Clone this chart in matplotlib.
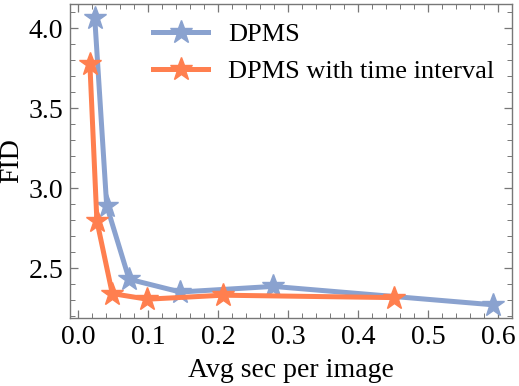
import matplotlib
matplotlib.use("Agg")
import matplotlib.pyplot as plt
from matplotlib.ticker import MultipleLocator

dpms_x = [0.024, 0.041, 0.073, 0.146, 0.279, 0.593]
dpms_y = [4.06, 2.89, 2.43, 2.35, 2.385, 2.27]
dpms_ti_x = [0.017, 0.027, 0.049, 0.099, 0.207, 0.451]
dpms_ti_y = [3.775, 2.795, 2.34, 2.305, 2.33, 2.315]

blue = "#8aa2cf"
orange = "#ff7f4f"

plt.rcParams['font.family'] = ['Liberation Serif', 'DejaVu Serif']

fig = plt.figure(figsize=(5.19, 3.86), dpi=100)
ax = fig.add_axes([70/519, 1-318/386, 442/519, 314/386])

ax.plot(dpms_x, dpms_y, color=blue, lw=3.6, marker='*', ms=17, mec=blue, mfc=blue,
        label='DPMS', zorder=2)
ax.plot(dpms_ti_x, dpms_ti_y, color=orange, lw=3.6, marker='*', ms=17, mec=orange, mfc=orange,
        label='DPMS with time interval', zorder=3)

ax.set_xlim(-0.0114, 0.62)
ax.set_ylim(2.1875, 4.15)
ax.xaxis.set_major_locator(MultipleLocator(0.1))
ax.xaxis.set_minor_locator(MultipleLocator(0.02))
ax.yaxis.set_major_locator(MultipleLocator(0.5))
ax.yaxis.set_minor_locator(MultipleLocator(0.1))
ax.xaxis.set_major_formatter(matplotlib.ticker.FormatStrFormatter('%.1f'))
ax.yaxis.set_major_formatter(matplotlib.ticker.FormatStrFormatter('%.1f'))

for s in ax.spines.values():
    s.set_color('#777777')
    s.set_linewidth(1.0)
ax.tick_params(which='both', direction='in', top=True, right=True, color='#777777',
               labelsize=20, labelcolor='black')
ax.tick_params(which='major', length=6, width=0.9, pad=5)
ax.tick_params(which='minor', length=3.5, width=0.7)

ax.set_xlabel('Avg sec per image', fontsize=20, labelpad=6)
ax.set_ylabel('FID', fontsize=20, labelpad=3)

leg = ax.legend(loc='upper left', bbox_to_anchor=((153-70)/442, (318-23)/314), frameon=False,
                fontsize=19, handlelength=2.1, handletextpad=0.75, labelspacing=0.5,
                borderpad=0, borderaxespad=0)

fig.savefig('out.png', dpi=100)
